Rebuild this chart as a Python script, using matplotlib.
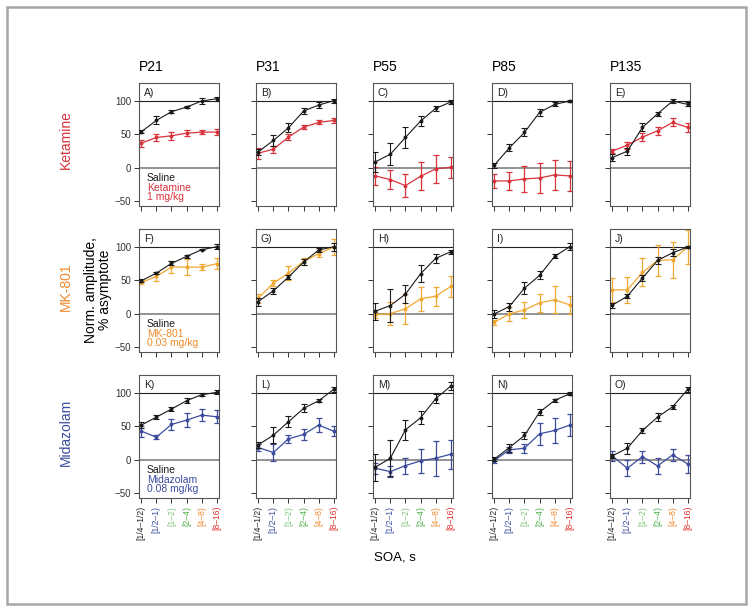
import matplotlib.pyplot as plt
from matplotlib.patches import Rectangle
import numpy as np

plt.rcParams['font.family'] = ['Liberation Sans', 'DejaVu Sans']

# ============================
# DATA
# ============================
ages = ["P21", "P31", "P55", "P85", "P135"]
soa_bins = ["[1/4\u20131/2)", "[1/2\u20131)", "[1\u20132)", "[2\u20134)", "[4\u20138)", "[8\u201316)"]
drugs = ["Ketamine", "MK-801", "Midazolam"]
doses = ["1 mg/kg", "0.03 mg/kg", "0.08 mg/kg"]
panel_letters = list("ABCDEFGHIJKLMNO")

# Ketamine row
ket_sal = [[54, 71, 84, 91, 100, 103.5],
           [24, 41, 60, 85, 94, 100.5],
           [9, 20.5, 45.5, 70, 89, 98.5],
           [4, 30, 53, 83, 95, 100],
           [15.5, 25, 60.5, 81, 100, 95]]
ket_sal_err = [[2, 6, 2, 2, 4, 3],
               [4, 8, 7, 4, 4, 3],
               [15, 16, 15, 7, 4, 3],
               [4, 5, 6, 5, 3, 1],
               [5, 5, 6, 3, 3, 3]]
ket_drug = [[37, 45.5, 48, 52, 53.5, 53.5],
            [22, 28, 46, 61, 68, 71],
            [-12, -17.5, -26.5, -12.5, -1.5, 1],
            [-19.5, -19.5, -16.5, -15, -10.5, -12],
            [25, 34, 46, 55.5, 68, 60.5]]
ket_drug_err = [[5, 5, 6, 5, 3, 5],
                [8, 5, 4, 3, 3, 4],
                [14, 14, 17, 21, 21, 16],
                [10, 14, 20, 22, 23, 23],
                [3, 5, 6, 6, 6, 7]]

# MK-801 row
mk_sal = [[49.5, 61, 75.5, 86, 96, 100.5],
          [18.5, 34.5, 55, 77.5, 95.5, 100.5],
          [4, 12.5, 29.5, 60, 83, 93],
          [0, 11, 38.5, 57.5, 86, 100.5],
          [13, 26.5, 53.5, 80, 91.5, 100]]
mk_sal_err = [[2, 2, 3, 2, 1, 4],
              [6, 4, 3, 4, 3, 6],
              [13, 24, 13, 13, 7, 3],
              [6, 6, 9, 6, 3, 5],
              [4, 3, 5, 5, 5, 1]]
mk_drug = [[47, 56, 70, 70, 70, 75],
           [23.5, 46, 61, 78.5, 90, 100],
           [-1.5, 0.5, 7.5, 22.5, 26.5, 41],
           [-12.5, 0, 6, 16.5, 21, 13.5],
           [36, 36, 62, 80, 81, 100]]
mk_drug_err = [[3, 7, 9, 12, 5, 8],
               [7, 4, 10, 5, 5, 12],
               [5, 17, 22, 18, 14, 16],
               [4, 10, 12, 13, 20, 13],
               [18, 19, 21, 23, 27, 26]]

# Midazolam row
mid_sal = [[52, 64, 76, 88.5, 97.5, 101],
           [22.5, 37, 57, 77, 88.5, 105.5],
           [-11, 2.5, 45, 63, 91.5, 110.5],
           [1, 18.5, 36.5, 71.5, 89, 99],
           [6, 17.5, 44, 64, 79.5, 105.5]]
mid_sal_err = [[4, 3, 3, 4, 2, 3],
               [4, 12, 8, 6, 2, 4],
               [20, 27, 15, 10, 7, 6],
               [3, 6, 5, 4, 2, 2],
               [3, 8, 4, 6, 3, 4]]
mid_drug = [[43, 34, 53, 59.5, 67, 64.5],
            [18.5, 11, 31.5, 38, 52, 43],
            [-12.5, -17.5, -8.5, -1.5, 2.5, 8.5],
            [-1, 15, 17.5, 39, 44, 52],
            [6, -12.5, 5, -9, 7.5, -6]]
mid_drug_err = [[8, 3, 8, 10, 9, 10],
                [5, 13, 6, 8, 10, 7],
                [8, 8, 12, 18, 26, 22],
                [3, 4, 7, 16, 18, 16],
                [7, 12, 9, 12, 9, 14]]

sal_rows = [ket_sal, mk_sal, mid_sal]
sal_err_rows = [ket_sal_err, mk_sal_err, mid_sal_err]
drug_rows = [ket_drug, mk_drug, mid_drug]
drug_err_rows = [ket_drug_err, mk_drug_err, mid_drug_err]

# colours
drug_line_col = ["#d8333b", "#f0a830", "#3b4c9e"]
drug_text_col = ["#d8333b", "#ef8a2e", "#3b4c9e"]
tick_cols = ["#222222", "#3b4c9e", "#7ec57a", "#4daf4a", "#f08a30", "#e0302c"]
sal_col = "#1a1a1a"

# ============================
# FIGURE
# ============================
W, H = 753, 611
fig = plt.figure(figsize=(W / 100, H / 100), dpi=100)

# outer gray frame
fig.patches.append(Rectangle((7 / W, 1 - 604 / H), 739 / W, 597 / H,
                             transform=fig.transFigure, fill=False,
                             edgecolor="#a6a6a6", linewidth=1.8))

lefts = [139, 256, 373, 492, 610]
tops = [83, 229, 375]
aw, ah = 80, 123
x = np.arange(1, 7)

for r in range(3):
    for c in range(5):
        ax = fig.add_axes([lefts[c] / W, 1 - (tops[r] + ah) / H, aw / W, ah / H])
        ax.axhline(100, color="#222222", lw=0.8, zorder=1)
        ax.axhline(0, color="#808080", lw=1.2, zorder=1)

        ax.errorbar(x, sal_rows[r][c], yerr=sal_err_rows[r][c], color=sal_col,
                    lw=0.8, elinewidth=0.8, capsize=2.5, capthick=0.8,
                    marker="o", ms=1.8, zorder=3)
        ax.errorbar(x, drug_rows[r][c], yerr=drug_err_rows[r][c],
                    color=drug_line_col[r], lw=0.9, elinewidth=0.9, capsize=2.5,
                    capthick=0.9, marker="o", ms=1.8, zorder=2)

        ax.set_xlim(0.85, 6.15)
        ax.set_ylim(-57, 127)
        ax.set_yticks([-50, 0, 50, 100])
        ax.set_xticks(x)
        ax.tick_params(direction="out", length=3.5, width=0.7, colors="#333333",
                       labelsize=7, pad=2)
        for s in ax.spines.values():
            s.set_linewidth(0.8)
            s.set_color("#555555")

        if c == 0:
            ax.set_yticklabels(["\u221250", "0", "50", "100"])
            ax.text(0.1, 0.23, "Saline", transform=ax.transAxes, fontsize=7.5,
                    color=sal_col, va="center")
            ax.text(0.1, 0.148, drugs[r], transform=ax.transAxes, fontsize=7.5,
                    color=drug_text_col[r], va="center")
            ax.text(0.1, 0.07, doses[r], transform=ax.transAxes, fontsize=7.5,
                    color=drug_text_col[r], va="center")
        else:
            ax.set_yticklabels([])

        if r == 2:
            ax.set_xticklabels(soa_bins, rotation=90, fontsize=6.2)
            for lab, col in zip(ax.get_xticklabels(), tick_cols):
                lab.set_color(col)
        else:
            ax.set_xticklabels([])

        ax.text(0.06, 0.92, panel_letters[r * 5 + c] + ")", transform=ax.transAxes,
                fontsize=7.5, va="center", ha="left", color="#222222")

# column titles
for c in range(5):
    fig.text(lefts[c] / W, 1 - 67 / H, ages[c], fontsize=10, ha="left", va="center")

# row labels
row_y = [140, 287, 432]
for r in range(3):
    fig.text(66 / W, 1 - row_y[r] / H, drugs[r], rotation=90, color=drug_text_col[r],
             fontsize=10, ha="center", va="center")

fig.text(98 / W, 1 - 290 / H, "Norm. amplitude,\n% asymptote", rotation=90,
         fontsize=10, ha="center", va="center", linespacing=1.0)
fig.text(395 / W, 1 - 558 / H, "SOA, s", fontsize=9.5, ha="center", va="center")

plt.savefig("out.png", dpi=100)
